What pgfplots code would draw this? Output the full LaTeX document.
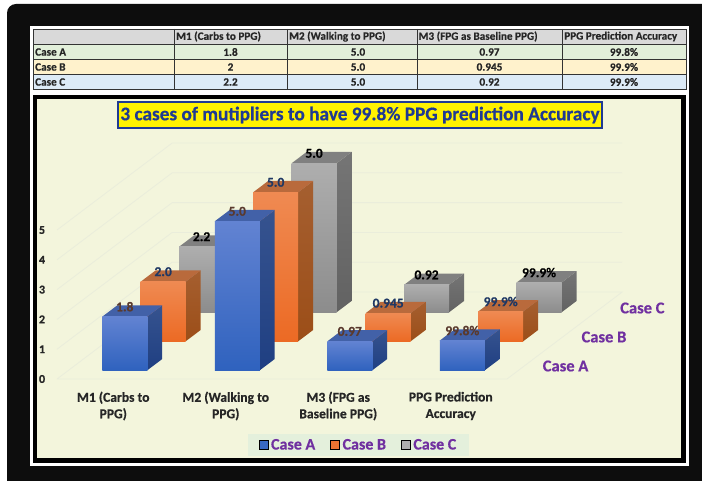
\documentclass[border=0pt]{standalone}
\usepackage{pgfplots}
\pgfplotsset{compat=1.18}
\usepackage{fontspec}
\setmainfont{Carlito}[BoldFeatures={FakeBold=0.5}]
\definecolor{AfT}{HTML}{6283D2}\definecolor{AfB}{HTML}{2F62BE}\definecolor{AsT}{HTML}{36538F}\definecolor{AsB}{HTML}{1F3F82}\definecolor{Atp}{HTML}{4261A8}
\definecolor{BfT}{HTML}{EF8A52}\definecolor{BfB}{HTML}{EC6A24}\definecolor{BsT}{HTML}{A55F30}\definecolor{BsB}{HTML}{9C4E18}\definecolor{Btp}{HTML}{B96A3C}
\definecolor{CfT}{HTML}{AEAEAE}\definecolor{CfB}{HTML}{8C8C8C}\definecolor{CsT}{HTML}{757575}\definecolor{CsB}{HTML}{626262}\definecolor{Ctp}{HTML}{808080}
\definecolor{panel}{HTML}{F3F5DC}
\definecolor{gridc}{HTML}{EAEDDB}
\definecolor{purp}{HTML}{7030A0}
\definecolor{ttl}{HTML}{1F3A93}
\definecolor{lblA}{HTML}{5A3A2E}
\definecolor{lblB}{HTML}{1F3864}
\definecolor{lgd}{HTML}{E4F0DC}
\newcommand\threeDbar[4]{%
  \pgfmathsetmacro\xa{#1+0.3}\pgfmathsetmacro\xb{#1+0.7}%
  \pgfmathsetmacro\ya{#2+0.3}\pgfmathsetmacro\yb{#2+0.69}%
  \addplot3[forget plot,draw=none,top color=#4sT,bottom color=#4sB,no marks] coordinates {(\xb,\ya,0) (\xb,\yb,0) (\xb,\yb,#3) (\xb,\ya,#3) (\xb,\ya,0)};
  \addplot3[forget plot,draw=none,fill=#4tp,no marks] coordinates {(\xa,\ya,#3) (\xb,\ya,#3) (\xb,\yb,#3) (\xa,\yb,#3) (\xa,\ya,#3)};
  \addplot3[forget plot,draw=none,top color=#4fT,bottom color=#4fB,no marks] coordinates {(\xa,\ya,0) (\xb,\ya,0) (\xb,\ya,#3) (\xa,\ya,#3) (\xa,\ya,0)};
}
\newcommand\barlabel[5]{\node[font=\fontsize{13.5}{15}\selectfont\bfseries,text=#5] at (axis cs:#1+0.5,#2+0.3,#3) [yshift=10pt] {#4};}
\newcommand\wallline[1]{\addplot3[forget plot,no marks,gridc,line width=0.8pt] coordinates {(0,0,#1) (0,3,#1) (4,3,#1)};}
\begin{document}
\begin{tikzpicture}[x=1pt,y=-1pt]
\fill[white] (0,0) rectangle (702,481);
\fill[black!95] (7,481) [rounded corners=9pt] -- (7,4) [sharp corners] -- (702,4) -- (702,481) -- cycle;
% table
\fill[white] (30,26) rectangle (689,92);
\definecolor{rH}{HTML}{D9D9D9}\definecolor{rA}{HTML}{E2EFDA}\definecolor{rB}{HTML}{FFF2CC}\definecolor{rC}{HTML}{DDEBF7}
\fill[rH] (33,29) rectangle (686,44);
\fill[rA] (33,44) rectangle (686,59.5);
\fill[rB] (33,59.5) rectangle (686,74);
\fill[rC] (33,74) rectangle (686,89);
\draw[black!80,line width=0.9pt] (33,29) rectangle (686,89);
\foreach \y in {44,59.5,74} \draw[black!80,line width=0.9pt] (33,\y) -- (686,\y);
\foreach \x in {174,287,417,562} \draw[black!80,line width=0.9pt] (\x,29) -- (\x,89);
\begin{scope}[every node/.style={font=\fontsize{11.2}{13}\selectfont\bfseries,text=black!85,inner sep=0pt}]
\node[anchor=west] at (176,36.5) {M1 (Carbs to PPG)};
\node[anchor=west] at (289,36.5) {M2 (Walking to PPG)};
\node[anchor=west] at (418.5,36.5) {M3 (FPG as Baseline PPG)};
\node[anchor=west] at (564,36.5) {PPG Prediction Accuracy};
\node[anchor=west] at (35,52) {Case A};
\node[anchor=west] at (35,67) {Case B};
\node[anchor=west] at (35,82) {Case C};
\node at (230.5,52) {1.8};\node at (358,52) {5.0};\node at (489.5,52) {0.97};\node at (624,52) {99.8\%};
\node at (230.5,67) {2};\node at (358,67) {5.0};\node at (489.5,67) {0.945};\node at (624,67) {99.9\%};
\node at (230.5,82) {2.2};\node at (358,82) {5.0};\node at (489.5,82) {0.92};\node at (624,82) {99.9\%};
\end{scope}
% panel
\fill[white] (30,92) rectangle (689,466);
\fill[black] (33,95) rectangle (686,463);
\fill[panel] (37,99) rectangle (681,458);
% title
\node[draw=ttl,line width=1.2pt,fill=yellow,text=ttl,font=\fontsize{19.3}{22}\selectfont\bfseries,minimum width=484pt,minimum height=26pt,inner sep=0pt] at (360,115) {3 cases of mutipliers to have 99.8\% PPG prediction Accuracy};
\begin{axis}[
  at={(57pt,-379pt)},anchor=origin,
  x={(112.5pt,0pt)},y={(38.4pt,29pt)},z={(0pt,29.8pt)},
  xmin=0,xmax=4,ymin=0,ymax=3,zmin=0,zmax=5,
  hide axis,clip=false,
  legend columns=3,
  legend style={at={(axis cs:2.68,0,-2.215)},anchor=center,draw=none,fill=lgd,
    font=\fontsize{16}{18}\selectfont\bfseries,text=purp,
    /tikz/every even column/.style={column sep=13pt},
    /tikz/every odd column/.style={column sep=1pt},inner xsep=11pt,inner ysep=3pt},
  legend image code/.code={\fill[#1] (0cm,-4.5pt) rectangle (9pt,4.5pt);},
]
\addlegendimage{fill=AfB!80!AfT}\addlegendentry{Case A}
\addlegendimage{fill=BfB!70!BfT}\addlegendentry{Case B}
\addlegendimage{fill=CfT}\addlegendentry{Case C}
% walls and floor
\wallline{1}\wallline{2}\wallline{3}\wallline{4}\wallline{5}
\addplot3[forget plot,no marks,gridc,line width=0.8pt] coordinates {(0,0,0) (4,0,0) (4,3,0) (0,3,0) (0,0,0)};
% Case C
\threeDbar{0}{2}{2.2}{C}\threeDbar{1}{2}{5.0}{C}\threeDbar{2}{2}{0.92}{C}\threeDbar{3}{2}{0.999}{C}
% Case B
\threeDbar{0}{1}{2.0}{B}\threeDbar{1}{1}{5.0}{B}\threeDbar{2}{1}{0.945}{B}\threeDbar{3}{1}{0.999}{B}
% Case A
\threeDbar{0}{0}{1.8}{A}\threeDbar{1}{0}{5.0}{A}\threeDbar{2}{0}{0.97}{A}\threeDbar{3}{0}{0.998}{A}
% data labels
\barlabel{2}{2}{0.92}{0.92}{black}\barlabel{3}{2}{0.999}{99.9\%}{black}
\barlabel{0}{2}{2.2}{2.2}{black}\barlabel{1}{2}{5}{5.0}{black}
\barlabel{0}{1}{2.0}{2.0}{lblB}\barlabel{1}{1}{5}{5.0}{lblB}\barlabel{2}{1}{0.945}{0.945}{lblB}\barlabel{3}{1}{0.999}{99.9\%}{lblB}
\barlabel{0}{0}{1.8}{1.8}{lblA}\barlabel{1}{0}{5}{5.0}{lblA}\barlabel{2}{0}{0.97}{0.97}{lblA}\barlabel{3}{0}{0.998}{99.8\%}{lblA}
% value ticks
\pgfplotsinvokeforeach{0,1,2,3,4,5}{\node[font=\fontsize{12}{14}\selectfont\bfseries,text=black!85] at (axis cs:-0.133,0,#1) {#1};}
% category labels
\begin{scope}[every node/.style={font=\fontsize{13.6}{16.5}\selectfont\bfseries,text=black!85,align=center}]
\node at (axis cs:0.5,0,0) [yshift=-27pt] {M1 (Carbs to\\PPG)};
\node at (axis cs:1.5,0,0) [yshift=-27pt] {M2 (Walking to\\PPG)};
\node at (axis cs:2.5,0,0) [yshift=-27pt] {M3 (FPG as\\Baseline PPG)};
\node at (axis cs:3.5,0,0) [yshift=-27pt] {PPG Prediction\\Accuracy};
\end{scope}
% depth labels
\node[font=\fontsize{16.5}{18}\selectfont\bfseries,text=purp] at (axis cs:4.35,0.5,0) [yshift=-1.5pt] {Case A};
\node[font=\fontsize{16.5}{18}\selectfont\bfseries,text=purp] at (axis cs:4.35,1.5,0) [yshift=-1.5pt] {Case B};
\node[font=\fontsize{16.5}{18}\selectfont\bfseries,text=purp] at (axis cs:4.35,2.5,0) [yshift=-1.5pt] {Case C};
\end{axis}
\end{tikzpicture}
\end{document}
